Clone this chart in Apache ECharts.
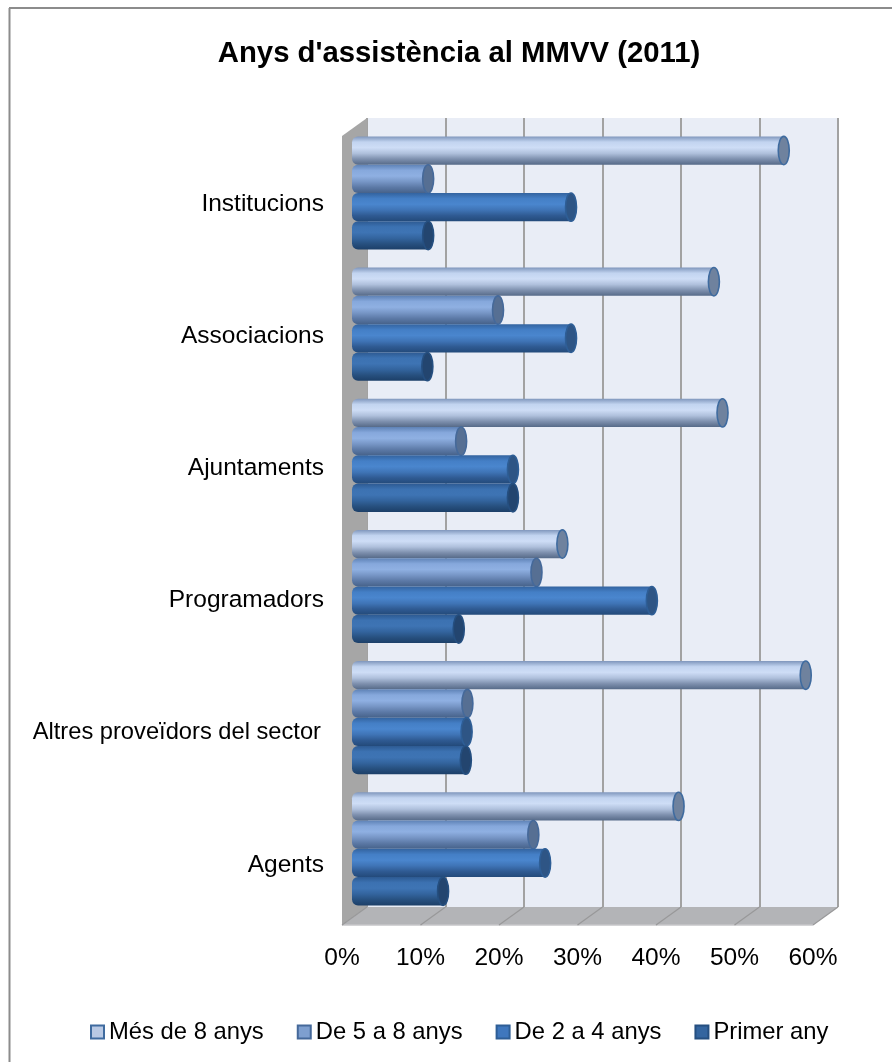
<!DOCTYPE html>
<html><head><meta charset="utf-8">
<style>html,body{margin:0;padding:0;background:#fff}#c{width:892px;height:1062px}</style>
<script src="https://cdn.jsdelivr.net/npm/echarts@6/dist/echarts.min.js"></script>
</head><body><div id="c"></div>
<script>
const categories = ['Institucions','Associacions','Ajuntaments','Programadors','Altres proveïdors del sector','Agents'];
const seriesNames = ['Més de 8 anys','De 5 a 8 anys','De 2 a 4 anys','Primer any'];
const mes8 = [55,46.1,47.2,26.8,57.8,41.6];
const de5a8 = [9.7,18.6,13.9,23.5,14.7,23.1];
const de2a4 = [27.9,27.9,20.5,38.2,14.6,24.6];
const primer = [9.7,9.6,20.5,13.6,14.5,11.6];
const seriesValues = [mes8,de5a8,de2a4,primer];
const tickValues = [0,10,20,30,40,50,60];
const tickLabelSuffix = '%';

const FONT = '"Liberation Sans", Arial, sans-serif';
const styles = [
  {legend:'#B9C9E4', stops:['#7F96BC','#C2D4F0','#CEDDF6','#AFC0DC','#7E90AE','#566A88'], cap:'#6F829E', capEdge:'#3F6B9F'},
  {legend:'#7E9FCF', stops:['#5E82B6','#86A8DC','#8FB0E2','#7796C6','#5C79A6','#46628A'], cap:'#566F93', capEdge:'#45699A'},
  {legend:'#3F77BD', stops:['#33639F','#447FC6','#4A86CE','#3F74B6','#2F5A92','#234A7A'], cap:'#2E5585', capEdge:'#2E5E96'},
  {legend:'#34659F', stops:['#2D5A92','#3C72B2','#3E74B4','#33649E','#27507F','#1C3F68'], cap:'#23456F', capEdge:'#254F80'}
];
const BAR_H = 28.3, CAP_RX = 5.5, DEPTH_X = 25, DEPTH_Y = 18;

function barRender(si){
  return function(params, api){
    const cat = api.value(0), val = api.value(1);
    const p0 = api.coord([0, cat]), p1 = api.coord([val, cat]);
    const y = p0[1] + (si - 2) * BAR_H;
    const st = styles[si];
    const stops = st.stops.map((c,i)=>({offset:i/(st.stops.length-1), color:c}));
    const grad = new echarts.graphic.LinearGradient(0,0,0,1,stops);
    return {type:'group', children:[
      {type:'rect', shape:{x:p0[0], y:y, width:p1[0]-p0[0], height:BAR_H, r:[6,0,0,6]}, style:{fill:grad}},
      {type:'ellipse', shape:{cx:p1[0], cy:y+BAR_H/2, rx:CAP_RX, ry:BAR_H/2}, style:{fill:st.cap, stroke:st.capEdge, lineWidth:1.6}}
    ]};
  };
}

const series = [];
// floor, side wall and the slanted floor ticks, placed from the front axis scale
series.push({
  type:'custom', xAxisIndex:2, yAxisIndex:2, silent:true, z:1,
  data:tickValues.map(v=>[v, 5]),
  encode:{x:0,y:1},
  renderItem(params, api){
    const v = api.value(0);
    const x = api.coord([v,0])[0];
    const FY = 925, TY = 136;
    const kids = [];
    if(v===0){
      const x60 = api.coord([60,0])[0];
      kids.push({type:'polygon', shape:{points:[[x,TY],[x+DEPTH_X,TY-DEPTH_Y],[x+DEPTH_X,FY-DEPTH_Y],[x,FY]]}, style:{fill:'#A6A6A6'}});
      kids.push({type:'polygon', shape:{points:[[x,FY],[x+DEPTH_X,FY-DEPTH_Y],[x60+DEPTH_X,FY-DEPTH_Y],[x60,FY]]}, style:{fill:'#B3B4B7'}});
      kids.push({type:'line', shape:{x1:x, y1:FY, x2:x60, y2:FY}, style:{stroke:'#C6C6C8', lineWidth:1.5}});
    }
    kids.push({type:'line', shape:{x1:x, y1:FY, x2:x+DEPTH_X, y2:FY-DEPTH_Y}, style:{stroke:'#989899', lineWidth:1.2}});
    return {type:'group', children:kids};
  }
});
seriesNames.forEach((name,si)=>{
  series.push({
    name, type:'custom', xAxisIndex:1, yAxisIndex:1, z:3+si,
    itemStyle:{color:styles[si].legend, borderColor:styles[si].capEdge, borderWidth:2},
    data:seriesValues[si].map((v,i)=>[i,v]),
    encode:{x:1,y:0},
    renderItem:barRender(si)
  });
});

const valueAxisBase = {type:'value', min:0, max:60, interval:10};
const chart = echarts.init(document.getElementById('c'), null, {renderer:'canvas'});
chart.setOption({
  animation:false,
  backgroundColor:'#fff',
  title:{text:"Anys d'assistència al MMVV (2011)", left:454, top:34, textAlign:'center',
    textStyle:{fontFamily:FONT, fontWeight:'bold', fontSize:29.3, color:'#000'}},
  legend:{data:seriesNames, left:85, top:1015, itemWidth:13, itemHeight:13, itemGap:33, icon:'rect',
    textStyle:{fontFamily:FONT, fontSize:23.8, color:'#000'}},
  grid:[
    {left:367, top:118, width:471, height:789, show:true, backgroundColor:'#E9EDF6', borderWidth:0, z:0},
    {left:352, top:127.4, width:471, height:787, show:false},
    {left:342, top:138, width:471, height:793, show:false}
  ],
  xAxis:[
    Object.assign({gridIndex:0, axisLabel:{show:false}, axisLine:{show:false}, axisTick:{show:false},
      splitLine:{show:true, lineStyle:{color:'#A2A2A2', width:2}}}, valueAxisBase),
    Object.assign({gridIndex:1, show:false}, valueAxisBase),
    Object.assign({gridIndex:2, axisLine:{show:false}, axisTick:{show:false}, splitLine:{show:false},
      axisLabel:{margin:15, formatter:v=>v+tickLabelSuffix, fontFamily:FONT, fontSize:24.5, color:'#000'}}, valueAxisBase)
  ],
  yAxis:[
    {gridIndex:0, type:'category', data:categories, inverse:true, show:false},
    {gridIndex:1, type:'category', data:categories, inverse:true, show:false},
    {gridIndex:2, type:'category', data:categories, inverse:true, axisLine:{show:false}, axisTick:{show:false},
      axisLabel:{margin:18, fontFamily:FONT, fontSize:24.5, color:'#000',
        formatter:v=>v.length>20?'{tight|'+v+'}':v,
        rich:{tight:{fontFamily:FONT, fontSize:23.7, color:'#000', padding:[0,3,0,0]}}}}
  ],
  graphic:[
    {type:'line', silent:true, shape:{x1:9.5,y1:8,x2:9.5,y2:1062}, style:{stroke:'#8C8C8C', lineWidth:2}},
    {type:'line', silent:true, shape:{x1:9,y1:8,x2:892,y2:8}, style:{stroke:'#8C8C8C', lineWidth:2}}
  ],
  series
});
</script></body></html>
